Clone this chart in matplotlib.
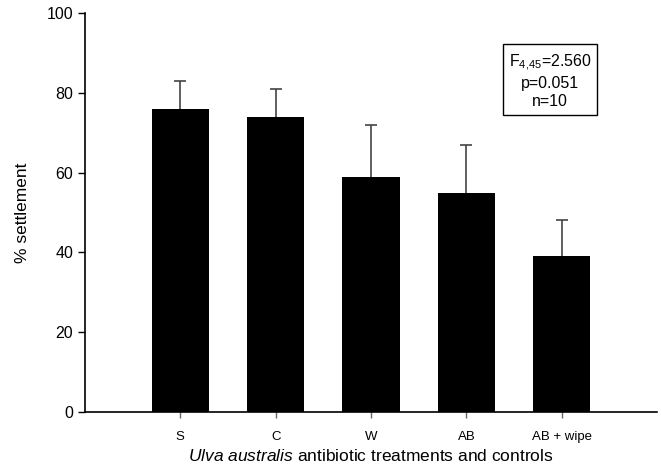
import matplotlib
matplotlib.use("Agg")
import matplotlib.pyplot as plt

plt.rcParams['font.family'] = ['Liberation Sans', 'DejaVu Sans']
plt.rcParams['mathtext.fontset'] = 'custom'
plt.rcParams['mathtext.rm'] = 'Liberation Sans'
plt.rcParams['mathtext.it'] = 'Liberation Sans:italic'

# data
treatments = ['S', 'C', 'W', 'AB', 'AB + wipe']
settlement = [76, 74, 59, 55, 39]
upper_err = [7, 7, 13, 12, 9]

fig = plt.figure(figsize=(6.61, 4.71), dpi=100)
ax = fig.add_axes([0.1286, 0.1253, 0.8654, 0.8471])

xpos = list(range(1, len(treatments) + 1))
# lower half of each error bar is hidden behind its bar
ax.errorbar(xpos, settlement, yerr=upper_err,
            fmt='none', ecolor='#444444', elinewidth=1.2, capsize=4.3,
            capthick=1.2, zorder=1)
ax.bar(xpos, settlement, width=0.6, color='black', zorder=2)

ax.set_xlim(0, 6)
ax.set_ylim(0, 100)
ax.set_yticks([0, 20, 40, 60, 80, 100])
ax.set_xticks(xpos)
ax.set_xticklabels(treatments, fontsize=9.5)
ax.tick_params(axis='y', labelsize=11.5, direction='out', length=5, width=1)
ax.tick_params(axis='x', direction='out', length=4, width=1, colors='#666666',
               labelcolor='black', pad=10)

for s in ['top', 'right']:
    ax.spines[s].set_visible(False)
ax.spines['left'].set_linewidth(1.2)
ax.spines['bottom'].set_linewidth(1.2)

ax.set_ylabel('% settlement', fontsize=12.5, labelpad=12)
ax.set_xlabel(r'$\it{Ulva\ australis}$ antibiotic treatments and controls',
              fontsize=12.5, labelpad=3)

ax.text(0.813, 0.83, '$\\mathrm{F_{4{,}45}}$=2.560\np=0.051\nn=10',
        transform=ax.transAxes, ha='center', va='center', fontsize=11.5,
        linespacing=1.25,
        bbox=dict(boxstyle='square,pad=0.35', facecolor='white',
                  edgecolor='black', linewidth=1))

fig.savefig('out.png', dpi=100)
